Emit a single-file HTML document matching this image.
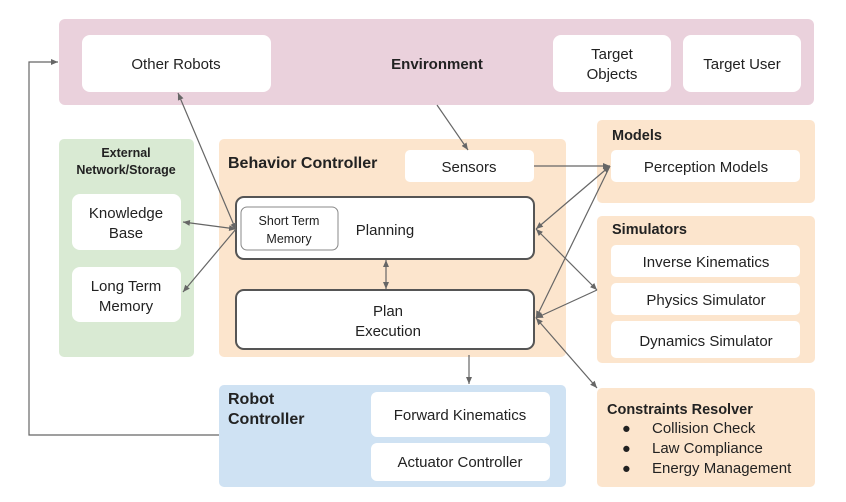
<!DOCTYPE html>
<html><head><meta charset="utf-8"><style>
body{margin:0;background:#fff;width:846px;height:497px;overflow:hidden}
text{font-family:"Liberation Sans",Arial,sans-serif;fill:#222}
.b{font-weight:bold}
</style></head><body>
<svg width="846" height="497" viewBox="0 0 846 497" xmlns="http://www.w3.org/2000/svg">
<defs><marker id="a" markerWidth="8" markerHeight="8" refX="7" refY="4" orient="auto-start-reverse" markerUnits="userSpaceOnUse"><path d="M0,1 L7,4 L0,7 z" fill="#666"/></marker></defs>
<!-- Environment -->
<rect x="59" y="19" width="755" height="86" rx="6" fill="#ead1dc"/>
<rect x="82" y="35" width="189" height="57" rx="8" fill="#fff"/>
<text x="176" y="69" font-size="15" text-anchor="middle">Other Robots</text>
<text x="437" y="69" font-size="15" text-anchor="middle" class="b">Environment</text>
<rect x="553" y="35" width="118" height="57" rx="8" fill="#fff"/>
<text x="612" y="59" font-size="15" text-anchor="middle">Target</text>
<text x="612" y="79" font-size="15" text-anchor="middle">Objects</text>
<rect x="683" y="35" width="118" height="57" rx="8" fill="#fff"/>
<text x="742" y="69" font-size="15" text-anchor="middle">Target User</text>
<!-- External -->
<rect x="59" y="139" width="135" height="218" rx="5" fill="#d9ead3"/>
<text x="126" y="157" font-size="12.5" text-anchor="middle" class="b">External</text>
<text x="126" y="174" font-size="12.5" text-anchor="middle" class="b">Network/Storage</text>
<rect x="72" y="194" width="109" height="56" rx="8" fill="#fff"/>
<text x="126" y="218" font-size="15" text-anchor="middle">Knowledge</text>
<text x="126" y="238" font-size="15" text-anchor="middle">Base</text>
<rect x="72" y="267" width="109" height="55" rx="8" fill="#fff"/>
<text x="126" y="291" font-size="15" text-anchor="middle">Long Term</text>
<text x="126" y="311" font-size="15" text-anchor="middle">Memory</text>
<!-- Behavior -->
<rect x="219" y="139" width="347" height="218" rx="5" fill="#fce5cd"/>
<text x="228" y="168" font-size="16" class="b">Behavior Controller</text>
<rect x="405" y="150" width="129" height="32" rx="5" fill="#fff"/>
<text x="469" y="172" font-size="15" text-anchor="middle">Sensors</text>
<rect x="236" y="197" width="298" height="62" rx="8" fill="#fff" stroke="#555" stroke-width="2"/>
<rect x="241" y="207" width="97" height="43" rx="6" fill="#fff" stroke="#888" stroke-width="1"/>
<text x="289" y="225" font-size="12.5" text-anchor="middle">Short Term</text>
<text x="289" y="243" font-size="12.5" text-anchor="middle">Memory</text>
<text x="385" y="235" font-size="15" text-anchor="middle">Planning</text>
<rect x="236" y="290" width="298" height="59" rx="8" fill="#fff" stroke="#555" stroke-width="2"/>
<text x="388" y="316" font-size="15" text-anchor="middle">Plan</text>
<text x="388" y="336" font-size="15" text-anchor="middle">Execution</text>
<!-- Models -->
<rect x="597" y="120" width="218" height="83" rx="5" fill="#fce5cd"/>
<text x="612" y="140" font-size="14.5" class="b">Models</text>
<rect x="611" y="150" width="189" height="32" rx="5" fill="#fff"/>
<text x="706" y="172" font-size="15" text-anchor="middle">Perception Models</text>
<!-- Simulators -->
<rect x="597" y="216" width="218" height="147" rx="5" fill="#fce5cd"/>
<text x="612" y="234" font-size="14.5" class="b">Simulators</text>
<rect x="611" y="245" width="189" height="32" rx="5" fill="#fff"/>
<text x="706" y="267" font-size="15" text-anchor="middle">Inverse Kinematics</text>
<rect x="611" y="283" width="189" height="32" rx="5" fill="#fff"/>
<text x="706" y="305" font-size="15" text-anchor="middle">Physics Simulator</text>
<rect x="611" y="321" width="189" height="37" rx="5" fill="#fff"/>
<text x="706" y="346" font-size="15" text-anchor="middle">Dynamics Simulator</text>
<!-- Constraints -->
<rect x="597" y="388" width="218" height="99" rx="5" fill="#fce5cd"/>
<text x="607" y="414" font-size="14.5" class="b">Constraints Resolver</text>
<text x="622" y="433" font-size="14.5">●</text><text x="652" y="433" font-size="15">Collision Check</text>
<text x="622" y="453" font-size="14.5">●</text><text x="652" y="453" font-size="15">Law Compliance</text>
<text x="622" y="473" font-size="14.5">●</text><text x="652" y="473" font-size="15">Energy Management</text>
<!-- Robot Controller -->
<rect x="219" y="385" width="347" height="102" rx="5" fill="#cfe2f3"/>
<text x="228" y="404" font-size="16" class="b">Robot</text>
<text x="228" y="424" font-size="16" class="b">Controller</text>
<rect x="371" y="392" width="179" height="45" rx="6" fill="#fff"/>
<text x="460" y="420" font-size="15" text-anchor="middle">Forward Kinematics</text>
<rect x="371" y="443" width="179" height="38" rx="6" fill="#fff"/>
<text x="460" y="467" font-size="15" text-anchor="middle">Actuator Controller</text>
<!-- connectors -->
<g stroke="#666" stroke-width="1.2" fill="none">
<polyline points="219,435 29,435 29,62 58,62" marker-end="url(#a)"/>
<line x1="178" y1="93" x2="236" y2="230" marker-start="url(#a)" marker-end="url(#a)"/>
<line x1="183" y1="222" x2="236" y2="229" marker-start="url(#a)" marker-end="url(#a)"/>
<line x1="236" y1="229" x2="183" y2="292" marker-end="url(#a)"/>
<line x1="437" y1="105" x2="468" y2="150" marker-end="url(#a)"/>
<line x1="534" y1="166" x2="610" y2="166" marker-end="url(#a)"/>
<line x1="610" y1="166" x2="536" y2="229" marker-start="url(#a)" marker-end="url(#a)"/>
<line x1="610" y1="166" x2="536" y2="318" marker-end="url(#a)"/>
<line x1="536" y1="229" x2="597" y2="290" marker-start="url(#a)" marker-end="url(#a)"/>
<line x1="597" y1="290" x2="536" y2="318" marker-end="url(#a)"/>
<line x1="536" y1="318" x2="597" y2="388" marker-start="url(#a)" marker-end="url(#a)"/>
<line x1="386" y1="260" x2="386" y2="289" marker-start="url(#a)" marker-end="url(#a)"/>
<line x1="469" y1="355" x2="469" y2="384" marker-end="url(#a)"/>
</g>
</svg>
</body></html>
